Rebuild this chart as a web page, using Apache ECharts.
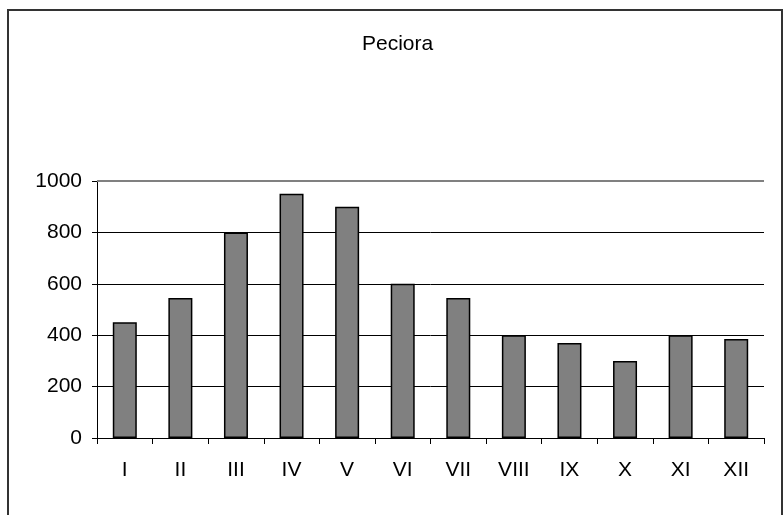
<!DOCTYPE html>
<html>
<head>
<meta charset="utf-8">
<script src="https://cdn.jsdelivr.net/npm/echarts@6/dist/echarts.min.js"></script>
<style>html,body{margin:0;padding:0;background:#fff;}#c{width:783px;height:515px;}</style>
</head>
<body>
<div id="c"></div>
<script>
const chartTitle = 'Peciora';
const categories = ['I','II','III','IV','V','VI','VII','VIII','IX','X','XI','XII'];
const values = [450, 545, 800, 950, 900, 600, 545, 400, 370, 300, 400, 385];
const yMin = 0, yMax = 1000, yStep = 200;

const FONT = '"Liberation Sans", Arial, sans-serif';
const chart = echarts.init(document.getElementById('c'), null, {renderer: 'canvas'});
chart.setOption({
  backgroundColor: '#fff',
  animation: false,
  title: {
    text: chartTitle, left: 357, top: 29,
    textStyle: {fontFamily: FONT, fontSize: 21, fontWeight: 'normal', color: '#000'}
  },
  graphic: [{
    type: 'rect', shape: {x: 8, y: 10, width: 774, height: 520},
    style: {fill: 'none', stroke: '#333', lineWidth: 2}, silent: true
  }],
  grid: {left: 97, right: 19, top: 181, bottom: 77, containLabel: false},
  xAxis: {
    type: 'category', data: categories, boundaryGap: true,
    axisLine: {show: true, lineStyle: {color: '#000', width: 1}},
    axisTick: {show: true, length: 6, alignWithLabel: false, lineStyle: {color: '#000'}},
    axisLabel: {fontFamily: FONT, fontSize: 21, color: '#000', margin: 22, interval: 0},
    splitLine: {show: false}
  },
  yAxis: {
    type: 'value', min: yMin, max: yMax, interval: yStep,
    axisLine: {show: true, lineStyle: {color: '#000', width: 1}},
    axisTick: {show: true, length: 5, lineStyle: {color: '#000'}},
    axisLabel: {fontFamily: FONT, fontSize: 21, color: '#000', margin: 15, formatter: v => String(v)},
    splitLine: {show: true, lineStyle: {color: ['#000','#000','#000','#000','#000','#808080'], width: 1}}
  },
  series: [{
    type: 'bar', data: values, barWidth: 24,
    itemStyle: {color: '#808080', borderColor: '#000', borderWidth: 1.5},
    markLine: {
      silent: true, symbol: 'none', label: {show: false},
      lineStyle: {color: '#808080', width: 2, type: 'solid'},
      data: [{yAxis: yMax}]
    }
  }]
});
</script>
</body>
</html>
